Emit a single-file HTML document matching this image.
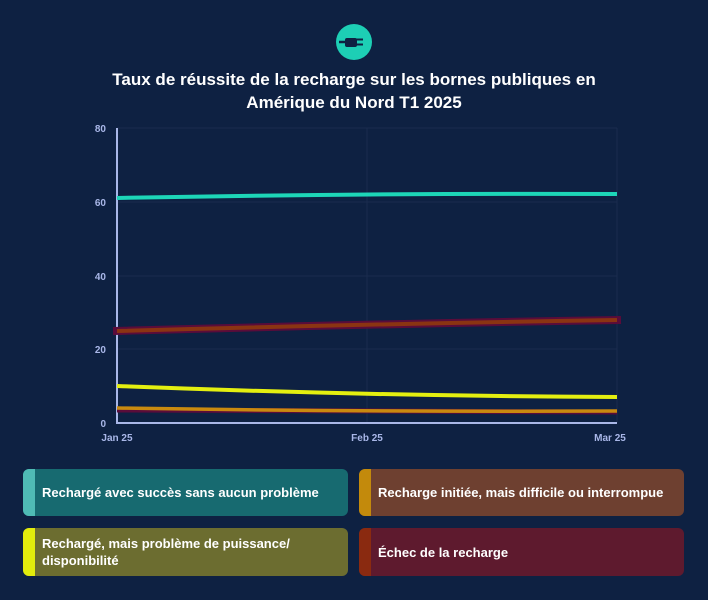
<!DOCTYPE html>
<html><head><meta charset="utf-8"><style>
body{margin:0;background:#0e2142;font-family:"Liberation Sans",sans-serif;}
.wrap{position:relative;width:708px;height:600px;overflow:hidden;background:#0e2142}
.title{position:absolute;top:68px;left:0;width:708px;text-align:center;color:#fff;font-weight:bold;font-size:17px;line-height:23px}
.box{position:absolute;height:47px;border-radius:6px;color:#fff;font-size:13px;font-weight:bold;display:flex;align-items:center;padding-left:19px;box-sizing:border-box;overflow:hidden;line-height:17px}
.box:before{content:"";position:absolute;left:0;top:0;bottom:0;width:12px}
.b1{left:23px;top:469px;width:325px;background:#176a70}.b1:before{background:#4fbbb5}
.b2{left:359px;top:469px;width:325px;background:#6e4030}.b2:before{background:#c38a0c}
.b3{left:23px;top:528px;width:325px;height:48px;background:#6c6d30}.b3:before{background:#e2ec0c}
.b4{left:359px;top:528px;width:325px;height:48px;background:#5e1a2e}.b4:before{background:#8a2a10}
</style></head><body><div class="wrap">
<svg width="708" height="460" style="position:absolute;left:0;top:0" font-family="Liberation Sans, sans-serif">
<circle cx="354" cy="42" r="18" fill="#1dcfb5"/>
<rect x="345" y="38" width="12" height="9" rx="2" fill="#0e2142"/>
<line x1="339" y1="42" x2="346" y2="42" stroke="#0e2142" stroke-width="2.5"/>
<line x1="356" y1="39.5" x2="363" y2="39.5" stroke="#0e2142" stroke-width="2"/>
<line x1="356" y1="44.5" x2="363" y2="44.5" stroke="#0e2142" stroke-width="2"/>
<g stroke="#1a2c4e" stroke-width="1">
<line x1="117" y1="128" x2="617" y2="128"/><line x1="117" y1="202" x2="617" y2="202"/>
<line x1="117" y1="276" x2="617" y2="276"/><line x1="117" y1="349" x2="617" y2="349"/>
<line x1="367" y1="128" x2="367" y2="423"/><line x1="617" y1="128" x2="617" y2="423"/>
</g>
<line x1="117" y1="128" x2="117" y2="424" stroke="#a9b7e8" stroke-width="2"/>
<line x1="116" y1="423" x2="617" y2="423" stroke="#a9b7e8" stroke-width="2"/>
<g fill="#a9b7e8" font-size="10" font-weight="bold" text-anchor="end">
<text x="106" y="132">80</text><text x="106" y="206">60</text><text x="106" y="280">40</text><text x="106" y="353">20</text><text x="106" y="427">0</text>
</g>
<g fill="#a9b7e8" font-size="10" font-weight="bold" text-anchor="middle">
<text x="117" y="441">Jan 25</text><text x="367" y="441">Feb 25</text><text x="610" y="441">Mar 25</text>
</g>
<g fill="none" stroke-linecap="butt">
<path d="M113,331 Q367,324 621,320" stroke="#5a0c3a" stroke-width="8"/>
<path d="M117,331 Q367,324 617,320" stroke="#8a3412" stroke-width="4"/>
<path d="M117,386 Q367,396 617,397" stroke="#e4ef10" stroke-width="4"/>
<path d="M117,410 Q367,412 617,412" stroke="#5a0c3a" stroke-width="5"/>
<path d="M117,408 Q367,412 617,411" stroke="#c98a0f" stroke-width="3.5"/>
<path d="M117,198 Q367,193 617,194" stroke="#1dd6b8" stroke-width="4"/>
</g>
</svg>
<div class="title">Taux de réussite de la recharge sur les bornes publiques en<br>Amérique du Nord T1 2025</div>
<div class="box b1">Rechargé avec succès sans aucun problème</div>
<div class="box b2">Recharge initiée, mais difficile ou interrompue</div>
<div class="box b3">Rechargé, mais problème de puissance/<br>disponibilité</div>
<div class="box b4">Échec de la recharge</div>
</div></body></html>
